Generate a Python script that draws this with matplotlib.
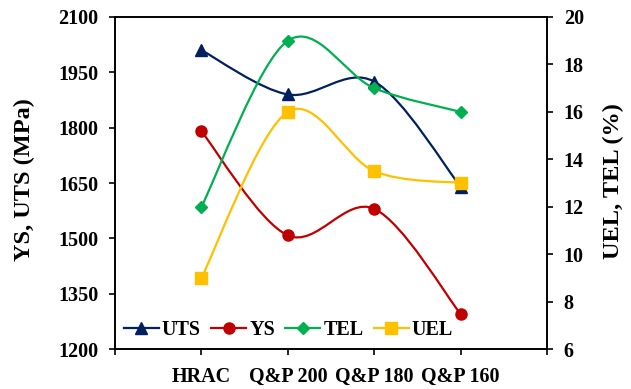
import numpy as np
import matplotlib.pyplot as plt
from matplotlib.path import Path
from matplotlib.patches import PathPatch
from matplotlib.lines import Line2D

plt.rcParams['font.family'] = ['Liberation Serif', 'DejaVu Serif']
plt.rcParams['font.weight'] = 'bold'

samples = ['HRAC', 'Q&P 200', 'Q&P 180', 'Q&P 160']
uts = [2010, 1890, 1925, 1640]   # MPa
ys = [1790, 1508, 1580, 1295]    # MPa
tel = [12.0, 19.0, 17.0, 16.0]   # %
uel = [9.0, 16.0, 13.5, 13.0]    # %


def smooth_path(x, y):
    # cubic Bezier through the points, Catmull-Rom style tangents
    x = np.asarray(x, float)
    y = np.asarray(y, float)
    px = np.concatenate([[x[0]], x, [x[-1]]])
    py = np.concatenate([[y[0]], y, [y[-1]]])
    verts = [(x[0], y[0])]
    codes = [Path.MOVETO]
    for i in range(1, len(x)):
        c1 = (px[i] + (px[i + 1] - px[i - 1]) / 6, py[i] + (py[i + 1] - py[i - 1]) / 6)
        c2 = (px[i + 1] - (px[i + 2] - px[i]) / 6, py[i + 1] - (py[i + 2] - py[i]) / 6)
        verts += [c1, c2, (px[i + 1], py[i + 1])]
        codes += [Path.CURVE4] * 3
    return Path(verts, codes)


fig = plt.figure(figsize=(6.31, 3.89), dpi=100)
ax = fig.add_axes([0.1823, 0.1028, 0.6846, 0.8535])
ax2 = ax.twinx()

xpos = np.arange(len(samples))

series = [
    (ax, uts, 'UTS', '#002060', '^', 8.5),
    (ax, ys, 'YS', '#C00000', 'o', 8),
    (ax2, tel, 'TEL', '#00B050', 'D', 6.5),
    (ax2, uel, 'UEL', '#FFC000', 's', 9),
]

handles = []
for a, vals, name, col, mk, ms in series:
    a.add_patch(PathPatch(smooth_path(xpos, vals), facecolor='none',
                          edgecolor=col, lw=1.6))
    a.plot(xpos, vals, linestyle='none', marker=mk, ms=ms, color=col)
    handles.append(Line2D([], [], color=col, lw=1.6, marker=mk, ms=ms))

ax.set_xlim(-1, 4)
ax.set_ylim(1200, 2100)
ax.set_yticks(np.arange(1200, 2101, 150))
ax2.set_ylim(6, 20)
ax2.set_yticks(np.arange(6, 21, 2))

ax.set_xticks(np.arange(-1, 5))
ax.set_xticklabels([''] + samples + [''])

ax.tick_params(axis='both', direction='out', length=4, width=1.2,
               labelsize=14.5, pad=8)
ax2.tick_params(axis='y', direction='out', length=4, width=1.2,
                labelsize=14.5, pad=8)
ax.tick_params(axis='x', pad=9)
for a in (ax, ax2):
    for s in a.spines.values():
        s.set_linewidth(1.2)

ax.set_ylabel('YS, UTS (MPa)', fontsize=17.5, fontweight='bold', va='center')
ax.yaxis.set_label_coords(-0.21, 0.51)
ax2.set_ylabel('UEL, TEL (%)', fontsize=17.5, fontweight='bold', va='center')
ax2.yaxis.set_label_coords(1.153, 0.505)

ax2.legend(handles, ['UTS', 'YS', 'TEL', 'UEL'], loc='center left', ncol=4,
           frameon=False, fontsize=14.5, handlelength=1.75, handletextpad=0.15,
           columnspacing=0.5, borderaxespad=0.0, borderpad=0.0,
           bbox_to_anchor=(0.02, 0.057))

fig.savefig('out.png', dpi=100)
